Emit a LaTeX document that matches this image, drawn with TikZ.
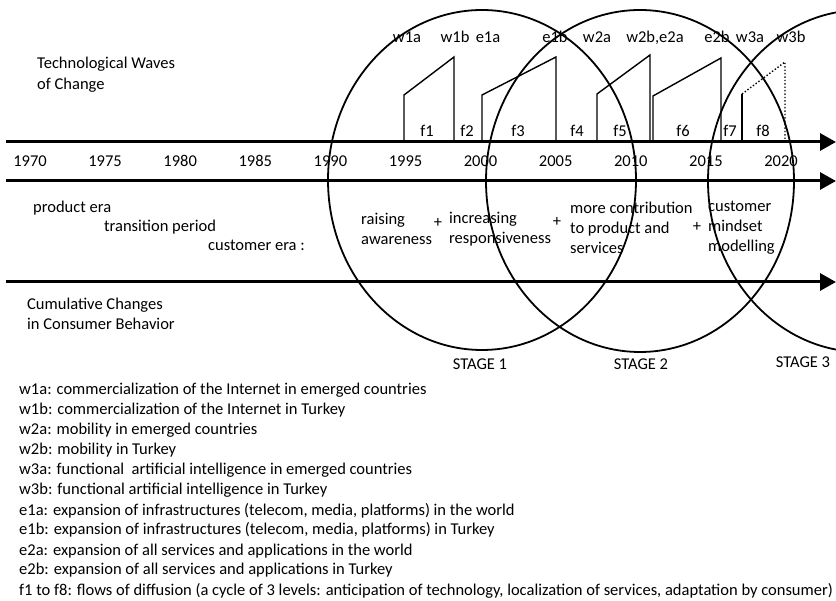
\documentclass[tikz,border=0pt]{standalone}
\usepackage{fontspec}
\setmainfont{Carlito}
\usetikzlibrary{arrows.meta}
\begin{document}
\begin{tikzpicture}[x=1pt,y=-1pt,
  lbl/.style={inner sep=0pt,anchor=base west,font=\fontsize{16.5}{19}\selectfont},
  clbl/.style={inner sep=0pt,anchor=base,font=\fontsize{16.5}{19}\selectfont},
  leg/.style={inner sep=0pt,anchor=base west,font=\fontsize{16.5}{19}\selectfont},
  axis/.style={line width=3pt,-{Triangle[length=16pt,width=17pt]}},
  wave/.style={line width=1.4pt,line join=miter},
  stage/.style={line width=1.8pt}]
\useasboundingbox (0,0) rectangle (836,601);
% axes
\coordinate (a1s) at (6,142); \coordinate (a1e) at (836,142);
\coordinate (a2s) at (6,181); \coordinate (a2e) at (836,181);
\coordinate (a3s) at (6,282); \coordinate (a3e) at (836,282);
\draw[axis] (a1s) -- (a1e);
\draw[axis] (a2s) -- (a2e);
\draw[axis] (a3s) -- (a3e);
% stages
\draw[stage] (482,180) ellipse [x radius=154, y radius=170];
\draw[stage] (640,181) ellipse [x radius=154, y radius=171];
\begin{scope}
\clip (0,0) rectangle (836,601);
\draw[stage] (862,181) ellipse [x radius=154, y radius=171];
\end{scope}
% waves
\draw[wave] (404,142) -- (404,95) -- (454,57) -- (454,142);
\draw[wave] (482,142) -- (482,95) -- (556,57) -- (556,142);
\draw[wave] (597,142) -- (597,94) -- (650,55) -- (650,142);
\draw[wave] (653,142) -- (653,96) -- (721,58) -- (721,142);
\draw[wave] (742,142) -- (742,94);
\draw[wave,dotted] (742,94) -- (785,62) -- (785,142);
% years
\foreach \yr [count=\i from 0] in {1970,1975,1980,1985,1990,1995,2000,2005,2010,2015,2020}
  \node[clbl] (y\yr) at ({30+75.1*\i},167) {\yr};
% wave labels
\node[clbl] (w1a) at (407,43) {w1a};
\node[clbl] (w1b) at (455,43) {w1b};
\node[clbl] (e1a) at (488,43) {e1a};
\node[clbl] (e1b) at (555,43) {e1b};
\node[clbl] (w2a) at (597,43) {w2a};
\node[clbl] (w2be2a) at (655,43) {w2b,e2a};
\node[clbl] (e2b) at (717,43) {e2b};
\node[clbl] (w3a) at (750,43) {w3a};
\node[clbl] (w3b) at (791,43) {w3b};
% flows
\node[clbl] (f1) at (427,137) {f1};
\node[clbl] (f2) at (467,137) {f2};
\node[clbl] (f3) at (518,137) {f3};
\node[clbl] (f4) at (577,137) {f4};
\node[clbl] (f5) at (620,137) {f5};
\node[clbl] (f6) at (683,137) {f6};
\node[clbl] (f7) at (730,137) {f7};
\node[clbl] (f8) at (763,137) {f8};
% left labels
\node[lbl] (tw1) at (37,69) {Technological Waves};
\node[lbl] (tw2) at (37,90) {of Change};
\node[lbl] (pe) at (33,213) {product era};
\node[lbl] (tp) at (104,232) {transition period};
\node[lbl] (ce) at (208,251) {customer era :};
\node[lbl] (cc1) at (27,310) {Cumulative Changes};
\node[lbl] (cc2) at (27,330) {in Consumer Behavior};
% stage contents
\node[lbl] (r1) at (361,225) {raising};
\node[lbl] (r2) at (361,245) {awareness};
\node[clbl,anchor=center] (p1) at (438,223) {+};
\node[lbl] (i1) at (449,224) {increasing};
\node[lbl] (i2) at (449,244) {responsiveness};
\node[clbl,anchor=center] (p2) at (557,222) {+};
\node[lbl] (m1) at (570,214) {more contribution};
\node[lbl] (m2) at (570,234) {to product and};
\node[lbl] (m3) at (570,254) {services};
\node[clbl,anchor=center] (p3) at (697,227) {+};
\node[lbl] (c1) at (708,212) {customer};
\node[lbl] (c2) at (708,232) {mindset};
\node[lbl] (c3) at (708,252) {modelling};
% stage names
\node[clbl] (s1) at (480,370) {STAGE 1};
\node[clbl] (s2) at (641,370) {STAGE 2};
\node[clbl] (s3) at (803,368) {STAGE 3};
% legend
\node[leg] (l1) at (19,395) {w1a: commercialization of the Internet in emerged countries};
\node[leg] (l2) at (19,415) {w1b: commercialization of the Internet in Turkey};
\node[leg] (l3) at (19,435) {w2a: mobility in emerged countries};
\node[leg] (l4) at (19,455) {w2b: mobility in Turkey};
\node[leg] (l5) at (19,475) {w3a: functional\ \ artificial intelligence in emerged countries};
\node[leg] (l6) at (19,495) {w3b: functional artificial intelligence in Turkey};
\node[leg] (l7) at (19,515) {e1a: expansion of infrastructures (telecom, media, platforms) in the world};
\node[leg] (l8) at (19,535) {e1b: expansion of infrastructures (telecom, media, platforms) in Turkey};
\node[leg] (l9) at (19,555) {e2a: expansion of all services and applications in the world};
\node[leg] (l10) at (19,575) {e2b: expansion of all services and applications in Turkey};
\node[leg] (l11) at (19,595) {f1 to f8: flows of diffusion (a cycle of 3 levels: anticipation of technology, localization of services, adaptation by consumer)};
\end{tikzpicture}
\end{document}
